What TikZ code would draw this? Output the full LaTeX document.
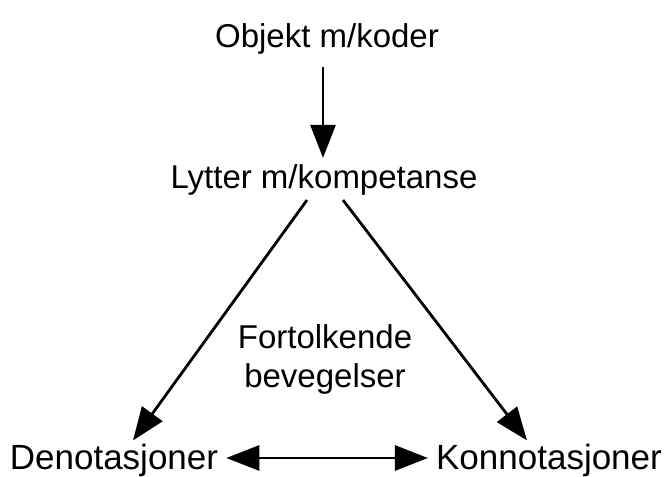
\documentclass[tikz,border=0pt]{standalone}
\usepackage{fontspec}
\setmainfont{Liberation Sans}
\usetikzlibrary{arrows.meta}
\begin{document}
\begin{tikzpicture}[x=1pt,y=1pt,
  lbl/.style={font=\fontsize{33}{38}\selectfont, inner sep=0pt, anchor=base},
  blbl/.style={font=\fontsize{35}{40}\selectfont, inner sep=0pt, anchor=base},
  tip/.tip={Triangle[length=33pt,width=25pt]},
  arr/.style={line width=2.8pt, -tip},
  darr/.style={line width=2.8pt, tip-tip}]
\useasboundingbox (0,0) rectangle (670,477);
\node[lbl] (obj) at (327,429) {Objekt m/koder};
\node[lbl] (lyt) at (324,288) {Lytter m/kompetanse};
\node[lbl] (fort) at (325,128) {Fortolkende};
\node[lbl] (bev) at (325,89) {bevegelser};
\node[blbl] (deno) at (114,7) {Denotasjoner};
\node[blbl] (konno) at (549,7) {Konnotasjoner};
\draw[arr] ([yshift=-12pt]obj.south -| 323,0) -- ([yshift=7pt]lyt.north -| 323,0);
\draw[arr] ([xshift=-17pt,yshift=-4pt]lyt.south) -- ([xshift=19pt,yshift=4pt]deno.north);
\draw[arr] ([xshift=19pt,yshift=-4pt]lyt.south) -- ([xshift=-22pt,yshift=4pt]konno.north);
\draw[darr] ([xshift=8pt]deno.east |- 0,19) -- ([xshift=-8pt]konno.west |- 0,19);
\end{tikzpicture}
\end{document}
